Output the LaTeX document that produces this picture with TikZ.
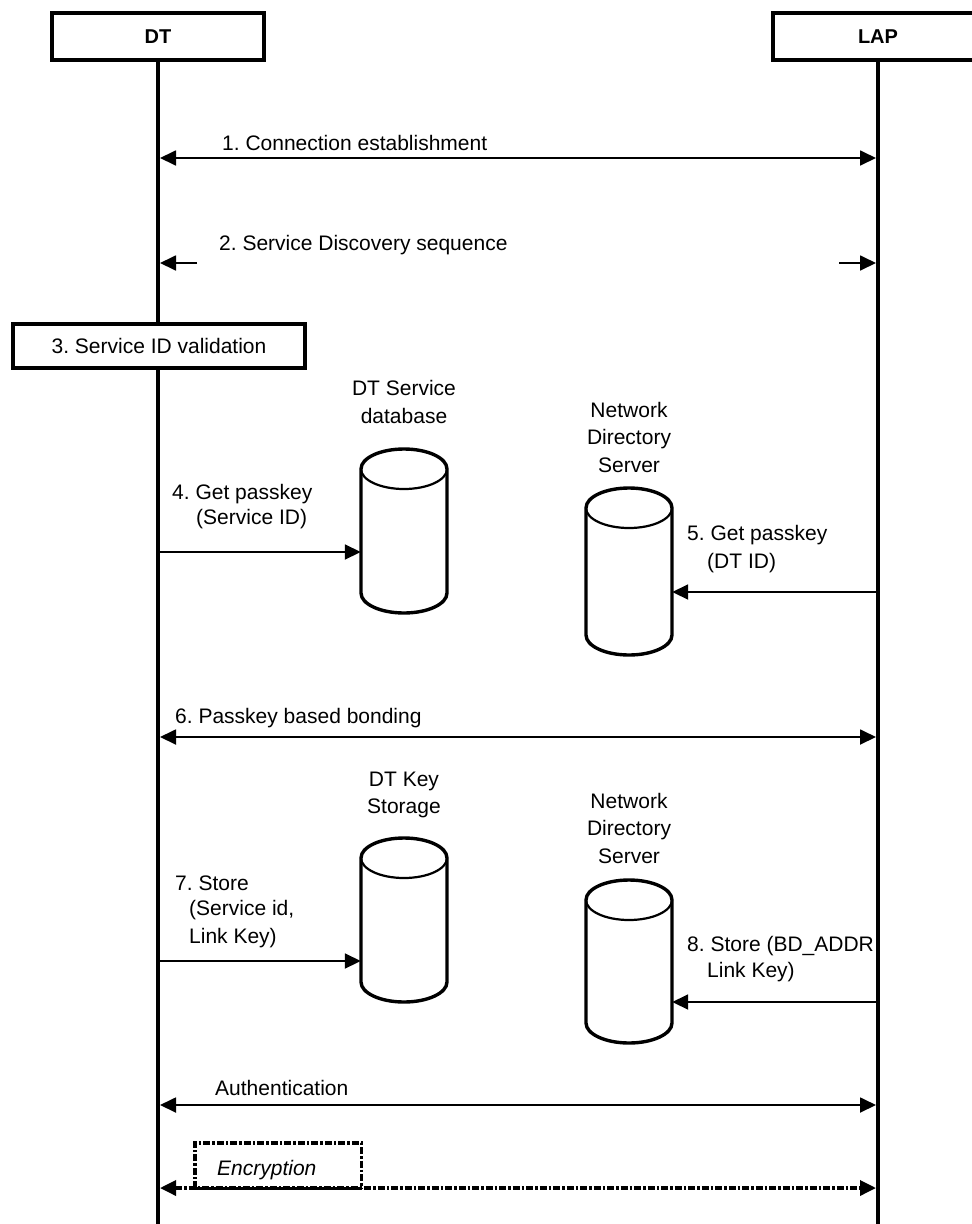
\documentclass[tikz,border=0pt]{standalone}
\usepackage{fontspec}
\setmainfont{Liberation Sans}
\usetikzlibrary{arrows.meta}
\frenchspacing
\newcommand{\dbcyl}[4]{% name, cx, topY, botY (rx=43, ry=20)
  \draw[cyl] (#2-43,-#3-20) -- (#2-43,-#4+20)
    arc[start angle=180,end angle=360,x radius=43,y radius=20]
    -- (#2+43,-#3-20)
    arc[start angle=0,end angle=180,x radius=43,y radius=20] -- cycle;
  \draw[line width=2.2pt] (#2-43,-#3-20) arc[start angle=180,end angle=360,x radius=43,y radius=20];
  \node[inner sep=0pt, minimum width=86pt, minimum height=#4-#3] (#1) at (#2,{-(#3+#4)/2}) {};
}
\begin{document}
\begin{tikzpicture}[x=1pt,y=1pt,
  lbl/.style={font=\fontsize{21}{27.5}\selectfont, inner sep=0pt},
  actor/.style={draw, line width=4.5pt, font=\fontsize{20}{24}\selectfont\bfseries, minimum height=47pt, inner sep=0pt},
  life/.style={line width=3.5pt},
  tip/.tip={Triangle[length=16pt,width=15pt]},
  msg/.style={line width=1.8pt, -tip},
  bmsg/.style={line width=1.8pt, tip-tip},
  cyl/.style={line width=3.4pt, fill=white, line join=round},
  dd/.style={line width=3.4pt, dash pattern=on 7pt off 2pt on 2.5pt off 2pt},
]
\useasboundingbox (0,0) rectangle (972,-1224);

% actors and lifelines
\node[actor, minimum width=212pt] (DT) at (158,-36.5) {DT};
\node[actor, minimum width=210pt] (LAP) at (878,-36.5) {LAP};
\coordinate (dtend) at (158,-1224);
\coordinate (lapend) at (878,-1224);
\draw[life] (DT.south) -- (dtend);
\draw[life] (LAP.south) -- (lapend);

% 1
\coordinate (m1a) at (160,-158);
\coordinate (m1b) at (876,-158);
\draw[bmsg] (m1a) -- (m1b);
\node[lbl, anchor=west] (t1) at (222,-143) {1. Connection establishment};

% 2
\coordinate (m2a) at (197,-263);
\coordinate (m2b) at (160,-263);
\coordinate (m2c) at (839,-263);
\coordinate (m2d) at (876,-263);
\draw[msg] (m2a) -- (m2b);
\draw[msg] (m2c) -- (m2d);
\node[lbl, anchor=west] (t2) at (219,-245) {2. Service Discovery sequence};

% 3
\node[draw, line width=3.5pt, fill=white, minimum width=292pt, minimum height=44pt, lbl] (sv) at (159,-346) {3. Service ID validation};

% databases
\node[lbl, align=center] (l1) at (404,-402) {DT Service\\database};
\dbcyl{db1}{404}{449}{613}
\node[lbl, align=center] (l2) at (629,-437) {Network\\Directory\\Server};
\dbcyl{ns1}{629}{488}{655}
\node[lbl, align=center] (l3) at (404,-795) {DT Key\\Storage};
\dbcyl{db2}{404}{838}{1002}
\node[lbl, align=center] (l4) at (629,-828) {Network\\Directory\\Server};
\dbcyl{ns2}{629}{880}{1043}

% 4
\coordinate (m4a) at (158,-552);
\draw[msg] (m4a) -- (m4a -| db1.west);
\node[lbl, anchor=west] (t4a) at (172,-494) {4. Get passkey};
\node[lbl, anchor=west] (t4b) at (196,-519) {(Service ID)};

% 5
\coordinate (m5a) at (878,-592);
\draw[msg] (m5a) -- (m5a -| ns1.east);
\node[lbl, anchor=west] (t5a) at (687,-535) {5. Get passkey};
\node[lbl, anchor=west] (t5b) at (707,-563) {(DT ID)};

% 6
\coordinate (m6a) at (160,-737);
\coordinate (m6b) at (876,-737);
\draw[bmsg] (m6a) -- (m6b);
\node[lbl, anchor=west] (t6) at (175,-718) {6. Passkey based bonding};

% 7
\coordinate (m7a) at (158,-961);
\draw[msg] (m7a) -- (m7a -| db2.west);
\node[lbl, anchor=west] (t7a) at (175,-883) {7. Store};
\node[lbl, anchor=west] (t7b) at (189,-910) {(Service id,};
\node[lbl, anchor=west] (t7c) at (189,-938) {Link Key)};

% 8
\coordinate (m8a) at (878,-1002);
\draw[msg] (m8a) -- (m8a -| ns2.east);
\node[lbl, anchor=west] (t8a) at (687,-946) {8. Store (BD\_ADDR};
\node[lbl, anchor=west] (t8b) at (707,-972) {Link Key)};

% Authentication
\coordinate (mAa) at (160,-1105);
\coordinate (mAb) at (876,-1105);
\draw[bmsg] (mAa) -- (mAb);
\node[lbl, anchor=west] (tA) at (215,-1088) {Authentication};

% Encryption
\node[minimum width=166pt, minimum height=45pt, inner sep=0pt] (encbox) at (278,-1165.5) {};
\draw[dd] (encbox.south west) -- (encbox.north west) -- (encbox.north east) -- (encbox.south east);
\coordinate (mEa) at (160,-1188);
\coordinate (mEb) at (876,-1188);
\draw[dd, tip-tip] (mEa) -- (mEb);
\draw[line width=3.4pt] (encbox.south west) -- (encbox.south east);
\node[lbl, anchor=west, font=\fontsize{21}{27.5}\selectfont\itshape] (tE) at (217,-1170) {Encryption};
\end{tikzpicture}
\end{document}
